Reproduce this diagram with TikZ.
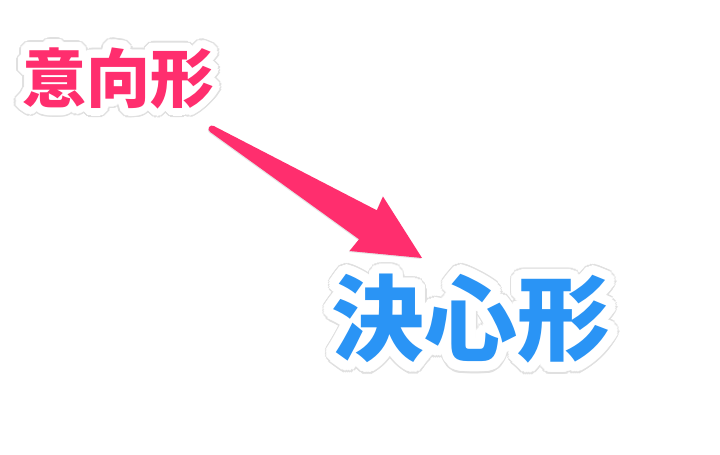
\documentclass[tikz,border=0pt]{standalone}
\usepackage{fontspec}
\usepackage[copies]{contour}
\newfontfamily\jpfont{Noto Sans CJK JP}
\definecolor{hotpink}{HTML}{FF2E6E}
\definecolor{skyblue}{HTML}{2A94F5}
\contournumber{40}

\begin{document}
\begin{tikzpicture}[x=1pt,y=1pt]
\tikzstyle{every node} = [inner sep=0pt, font=\jpfont\bfseries]
\tikzstyle{wordshadow} = [text=black!12]
\useasboundingbox[fill=white] (0,0) rectangle (720,455);
% upper word
\node[wordshadow] (ikoushadow) at (118,372) {\fontsize{64}{64}\selectfont\contourlength{9.5pt}\contour{black!12}{意向形}};
\node[text=hotpink] (ikou) at (118,373) {\fontsize{64}{64}\selectfont\contourlength{8pt}\contour{white}{意向形}};
% lower word
\node[wordshadow] (kesshinshadow) at (471,130) {\fontsize{93}{93}\selectfont\contourlength{11.5pt}\contour{black!12}{決心形}};
\node[text=skyblue] (kesshin) at (471,131) {\fontsize{93}{93}\selectfont\contourlength{10pt}\contour{white}{決心形}};
% arrow
\coordinate (tail) at (212,326);
\coordinate (tip) at (422,197);
\begin{scope}[shift={(tail)}, rotate=-31.56]
\fill[black!10, yshift=-1.2pt] (0,3.5) arc[start angle=90, end angle=270, radius=3.5]
	-- (183,-17) -- (181,-32) -- (246.5,0) -- (181,32) -- (183,17) -- cycle;
\fill[hotpink] (0,3.5) arc[start angle=90, end angle=270, radius=3.5]
	-- (183,-17) -- (181,-32) -- (246.5,0) -- (181,32) -- (183,17) -- cycle;
\end{scope}
\end{tikzpicture}
\end{document}
